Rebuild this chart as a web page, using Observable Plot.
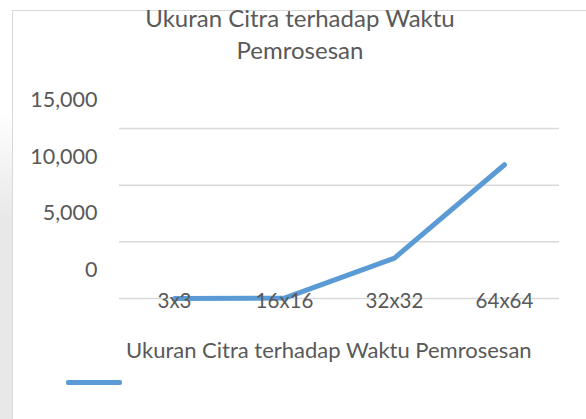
<!DOCTYPE html>
<html>
<head>
<meta charset="utf-8">
<script src="https://cdn.jsdelivr.net/npm/d3@7"></script>
<script src="https://cdn.jsdelivr.net/npm/@observablehq/plot@0.6"></script>
<style>
  html, body { margin: 0; padding: 0; background: #fff; }
  #wrap { position: relative; width: 586px; height: 419px; overflow: hidden; font-family: Lato, "Open Sans", sans-serif; color: #595959; }
  #strip { position: absolute; left: 0; top: 0; width: 12px; height: 419px; background: linear-gradient(to bottom, #ffffff 0px, #ffffff 110px, #e8e8e8 220px, #e8e8e8 419px); }
  #frame { position: absolute; left: 12px; top: 10px; width: 600px; height: 500px; border-left: 1.5px solid #d9d9d9; border-top: 1.5px solid #d9d9d9; box-sizing: border-box; }
  #title { position: absolute; left: 0; width: 600px; top: 2px; text-align: center; font-size: 24px; line-height: 32px; }
  #legend { position: absolute; left: 126px; top: 337px; font-size: 22px; line-height: 1.2; white-space: nowrap; }
  #swatch { position: absolute; left: 66px; top: 380px; width: 56px; height: 5px; background: #5b9bd5; border-radius: 2px; }
  #chart { position: absolute; left: 0; top: 0; }
</style>
</head>
<body>
<div id="wrap">
  <div id="strip"></div>
  <div id="frame"></div>
  <div id="chart"></div>
  <div id="title">Ukuran Citra terhadap Waktu<br>Pemrosesan</div>
  <div id="legend">Ukuran Citra terhadap Waktu Pemrosesan</div>
  <div id="swatch"></div>
</div>
<script>
const categories = ["3x3", "16x16", "32x32", "64x64"];
const values = [5, 40, 3570, 11800];
const yTicks = [0, 5000, 10000, 15000];
const seriesName = "Ukuran Citra terhadap Waktu Pemrosesan";

const data = categories.map((c, i) => ({ size: c, time: values[i] }));
const fmt = d3.format(",");

const chart = Plot.plot({
  width: 586,
  height: 419,
  marginLeft: 119,
  marginRight: 27,
  marginTop: 128,
  marginBottom: 121,
  style: { fontFamily: "Lato, 'Open Sans', sans-serif", background: "transparent", color: "#595959" },
  x: { type: "point", domain: categories, padding: 0.5, align: 0.5 },
  y: { domain: [0, 15000] },
  marks: [
    Plot.gridY(yTicks, { stroke: "#d9d9d9", strokeOpacity: 1, strokeWidth: 1.5 }),
    Plot.line(data, { x: "size", y: "time", stroke: "#5b9bd5", strokeWidth: 5, strokeLinejoin: "round", strokeLinecap: "round" }),
    Plot.axisY(yTicks, { tickSize: 0, tickPadding: 22, dy: -28.5, tickFormat: fmt, fontSize: 21.5, fill: "#595959", label: null }),
    Plot.axisX({ tickSize: 0, tickPadding: -5, fontSize: 20.5, fill: "#595959", label: null })
  ]
});
document.getElementById("chart").appendChild(chart);
</script>
</body>
</html>
